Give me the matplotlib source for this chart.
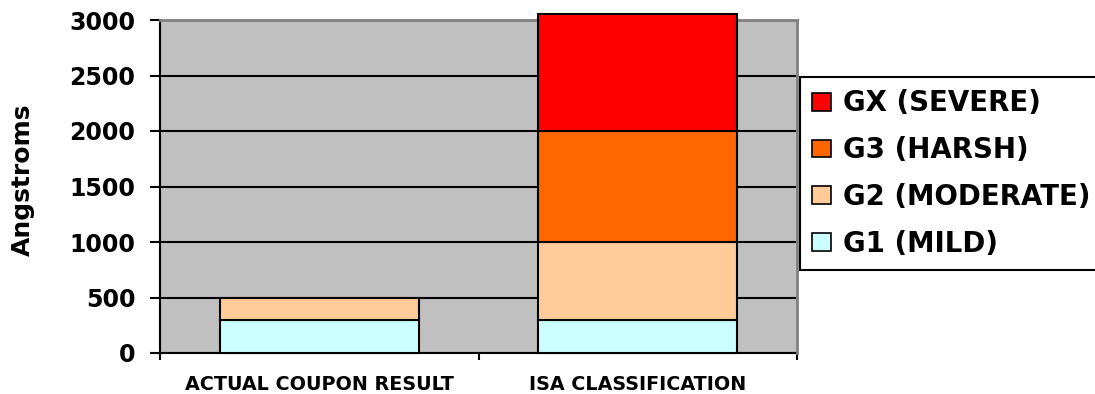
import matplotlib
matplotlib.use("Agg")
import matplotlib.pyplot as plt
from matplotlib.patches import Rectangle
import numpy as np

categories = ["ACTUAL COUPON RESULT", "ISA CLASSIFICATION"]
series_names = ["G1 (MILD)", "G2 (MODERATE)", "G3 (HARSH)", "GX (SEVERE)"]
g1 = [300, 300]
g2 = [200, 700]
g3 = [0, 1000]
gx = [0, 1050]
series_values = [g1, g2, g3, gx]
colors = ["#CCFFFF", "#FFCC99", "#FF6600", "#FF0000"]
y_ticks = [0, 500, 1000, 1500, 2000, 2500, 3000]

plt.rcParams['font.family'] = ['DejaVu Sans']
plt.rcParams['font.weight'] = 'bold'

fig = plt.figure(figsize=(10.95, 3.94), dpi=100)
ax = fig.add_axes([160/1095, 1-353/394, 637/1095, 333/394])
ax.set_facecolor("#C0C0C0")

x = np.arange(len(categories))
bottom = np.zeros(len(categories))
handles = []
for name, vals, col in zip(series_names, series_values, colors):
    vals = np.array(vals, dtype=float)
    mask = vals > 0
    ax.bar(x[mask], vals[mask], width=0.625, bottom=bottom[mask], color=col,
           edgecolor="black", linewidth=1.5, clip_on=False, zorder=3)
    bottom += vals
    handles.append(Rectangle((0, 0), 1, 1, facecolor=col, edgecolor="black", linewidth=1.2))

ax.set_ylim(0, 3000)
ax.set_xlim(-0.5, len(categories) - 0.5)
ax.set_yticks(y_ticks)
ax.set_yticklabels([str(t) for t in y_ticks], fontsize=17, fontweight='bold')
ax.tick_params(axis='y', direction='out', length=7.2, width=1.5, pad=10.5, color='black')

ax.set_xticks(np.arange(len(categories) + 1) - 0.5)
ax.set_xticklabels([])
ax.tick_params(axis='x', which='major', direction='out', length=5, width=1.5)
ax.set_xticks(x, minor=True)
ax.set_xticklabels(categories, minor=True, fontsize=13.8, fontweight='bold')
ax.tick_params(axis='x', which='minor', length=0, pad=16)

ax.set_axisbelow(True)
ax.yaxis.grid(True, color='black', linewidth=1.5)
ax.xaxis.grid(False)

for s in ['left', 'bottom']:
    ax.spines[s].set_color('black')
    ax.spines[s].set_linewidth(1.5)
for s in ['top', 'right']:
    ax.spines[s].set_color('#808080')
    ax.spines[s].set_linewidth(2)
    ax.spines[s].set_zorder(2.6)

ax.set_ylabel("Angstroms", fontsize=18, fontweight='bold')
ax.yaxis.set_label_coords(-0.196, 0.52)

leg = fig.legend(handles[::-1], series_names[::-1], loc='upper left',
                 bbox_to_anchor=(800/1095, 1-77/394),
                 prop={'weight': 'bold', 'size': 19.9},
                 frameon=True, fancybox=False, edgecolor='black', framealpha=1,
                 handlelength=0.68, handleheight=0.62, handletextpad=0.42,
                 labelspacing=0.68, borderpad=0.45, borderaxespad=0)
leg.get_frame().set_linewidth(1.5)

fig.savefig("out.png", dpi=100, facecolor='white')
